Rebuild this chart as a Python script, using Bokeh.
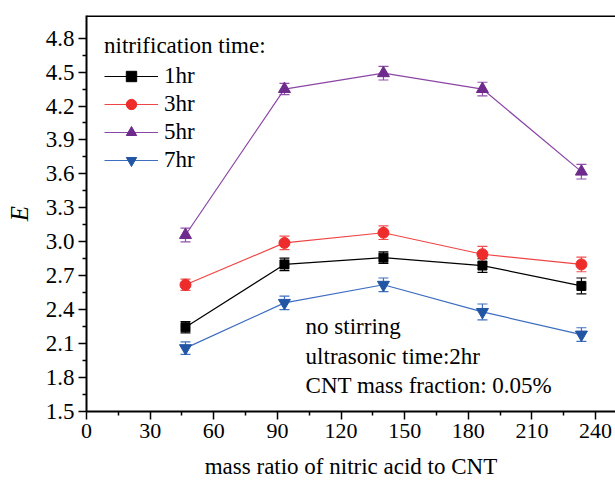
from bokeh.plotting import figure
from bokeh.models import (ColumnDataSource, Whisker, TeeHead, Legend, LegendItem,
                          Label, FixedTicker, Range1d, Span)
from bokeh.embed import file_html
from bokeh.resources import INLINE

# ---- data ----
mass_ratio = [46.67, 93.33, 140.0, 186.67, 233.33]
series_names = ["1hr", "3hr", "5hr", "7hr"]
e_1hr = [2.245, 2.80, 2.86, 2.79, 2.61]
e_3hr = [2.62, 2.99, 3.08, 2.89, 2.80]
e_5hr = [3.06, 4.35, 4.49, 4.35, 3.62]
e_7hr = [2.06, 2.46, 2.62, 2.38, 2.18]
err_1hr = [0.05, 0.055, 0.05, 0.06, 0.07]
err_3hr = [0.05, 0.06, 0.06, 0.07, 0.065]
err_5hr = [0.06, 0.05, 0.06, 0.06, 0.065]
err_7hr = [0.055, 0.06, 0.06, 0.07, 0.06]
x_ticks = [0, 30, 60, 90, 120, 150, 180, 210, 240]
y_ticks = [1.5, 1.8, 2.1, 2.4, 2.7, 3.0, 3.3, 3.6, 3.9, 4.2, 4.5, 4.8]
notes = ["no stirring", "ultrasonic time:2hr", "CNT mass fraction: 0.05%"]

FONT = "Liberation Serif"

p = figure(frame_width=529, frame_height=396, output_backend="svg", toolbar_location=None,
           x_range=Range1d(0, 249.4), y_range=Range1d(1.5, 5.0),
           min_border_left=86, min_border_right=0, min_border_top=15,
           min_border_bottom=69)
p.outline_line_color = None
p.xgrid.visible = False
p.ygrid.visible = False
p.background_fill_color = "white"

for ax in (p.xaxis[0], p.yaxis[0]):
    ax.axis_line_width = 2
    ax.axis_line_color = "black"
    ax.major_tick_line_width = 1.5
    ax.minor_tick_line_width = 1.5
    ax.major_tick_in = 0
    ax.major_tick_out = 8
    ax.minor_tick_in = 0
    ax.minor_tick_out = 4
    ax.major_label_text_font = FONT
    ax.major_label_text_color = "black"
    ax.axis_label_text_font = FONT
    ax.axis_label_text_color = "black"
    ax.major_label_standoff = 4

p.xaxis[0].ticker = FixedTicker(ticks=x_ticks,
                                minor_ticks=[15 + 30 * i for i in range(8)])
p.yaxis[0].ticker = FixedTicker(ticks=y_ticks,
                                minor_ticks=[1.65 + 0.3 * i for i in range(11)])
p.xaxis[0].major_label_text_font_size = "22px"
p.yaxis[0].major_label_text_font_size = "23px"
p.xaxis[0].axis_label = "mass ratio of nitric acid to CNT"
p.xaxis[0].axis_label_text_font_size = "23px"
p.xaxis[0].axis_label_text_font_style = "normal"
p.xaxis[0].axis_label_standoff = 13
p.yaxis[0].axis_label = "E"
p.yaxis[0].axis_label_text_font_size = "25px"
p.yaxis[0].axis_label_text_font_style = "italic"
p.yaxis[0].axis_label_standoff = 10
p.yaxis[0].major_label_overrides = {v: f"{v:.1f}" for v in y_ticks}

# top frame edge
p.add_layout(Span(location=5.0, dimension="width", line_color="black", line_width=3))

marker_colors = ["#000000", "#EE2C2C", "#6E2A8C", "#2255A4"]
line_colors = ["#000000", "#F04545", "#8A45A6", "#3D6DC0"]
err_colors = ["#000000", "#F05050", "#9050A8", "#4070C0"]
markers = ["square", "circle", "triangle", "inverted_triangle"]
sizes = [9, 11, 12, 12]
values = [e_1hr, e_3hr, e_5hr, e_7hr]
errors = [err_1hr, err_3hr, err_5hr, err_7hr]

items = []
for name, ys, es, mc, lc, ec, mk, sz in zip(series_names, values, errors,
                                            marker_colors, line_colors, err_colors,
                                            markers, sizes):
    src = ColumnDataSource(dict(x=mass_ratio, y=ys,
                                upper=[a + b for a, b in zip(ys, es)],
                                lower=[a - b for a, b in zip(ys, es)]))
    w = Whisker(base="x", upper="upper", lower="lower", source=src,
                line_color=ec, line_width=1.2,
                upper_head=TeeHead(size=10, line_color=ec, line_width=1.2),
                lower_head=TeeHead(size=10, line_color=ec, line_width=1.2))
    p.add_layout(w)
    lr = p.line("x", "y", source=src, line_color=lc, line_width=1.2)
    sr = p.scatter("x", "y", source=src, marker=mk, size=sz,
                   fill_color=mc, line_color=mc)
    items.append(LegendItem(label=name, renderers=[lr, sr]))

legend = Legend(items=items, location="top_left", title="nitrification time:")
legend.title_text_font = FONT
legend.title_text_font_size = "23px"
legend.title_text_font_style = "normal"
legend.title_text_color = "black"
legend.title_standoff = 4
legend.label_text_font = FONT
legend.label_text_font_size = "23px"
legend.label_text_color = "black"
legend.glyph_width = 54
legend.glyph_height = 26
legend.label_height = 26
legend.label_standoff = 6
legend.spacing = 2
legend.margin = 18
legend.padding = 8
legend.border_line_color = None
legend.background_fill_alpha = 0
p.add_layout(legend)

note_y = [2.25, 1.985, 1.727]
for t, yy in zip(notes, note_y):
    p.add_layout(Label(x=103.3, y=yy, text=t, text_font=FONT, text_font_size="23px",
                       text_font_style="normal",
                       text_baseline="middle", text_color="black"))

open("out.html", "w").write(file_html(p, INLINE))
